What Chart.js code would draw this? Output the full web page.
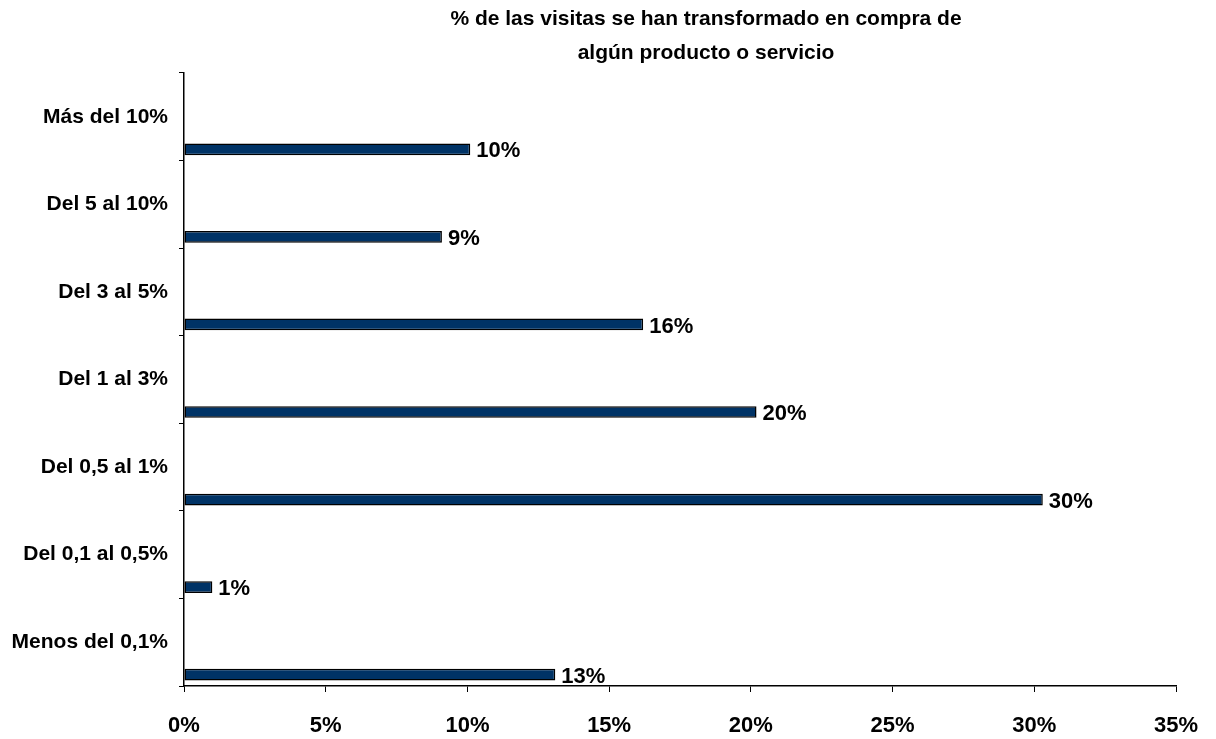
<!DOCTYPE html>
<html>
<head>
<meta charset="utf-8">
<script src="https://cdn.jsdelivr.net/npm/chart.js@4/dist/chart.umd.min.js"></script>
<style>
  html, body { margin: 0; padding: 0; background: #fff; overflow: hidden; }
  canvas { display: block; }
</style>
</head>
<body>
<canvas id="myChart" width="1216" height="739"></canvas>
<script>
const categories = [
  "Más del 10%",
  "Del 5 al 10%",
  "Del 3 al 5%",
  "Del 1 al 3%",
  "Del 0,5 al 1%",
  "Del 0,1 al 0,5%",
  "Menos del 0,1%",
];
const values = [10.1, 9.1, 16.2, 20.2, 30.3, 1.0, 13.1];
const valueLabels = ["10%", "9%", "16%", "20%", "30%", "1%", "13%"];
const xTicks = [0, 5, 10, 15, 20, 25, 30, 35];
const titleLines = [
  "% de las visitas se han transformado en compra de",
  "algún producto o servicio",
];

const FONT = "'Liberation Sans', Arial, sans-serif";

// title is drawn by hand so it can sit off-centre like the original
const titlePlugin = {
  id: "sideTitle",
  afterDraw(chart) {
    const ctx = chart.ctx;
    ctx.save();
    ctx.font = "bold 21px " + FONT;
    ctx.fillStyle = "#000";
    ctx.textAlign = "center";
    ctx.textBaseline = "middle";
    titleLines.forEach((t, i) => ctx.fillText(t, 706, 19 + i * 34));
    ctx.restore();
  },
};

const valueLabelPlugin = {
  id: "valueLabels",
  afterDatasetsDraw(chart) {
    const ctx = chart.ctx;
    const meta = chart.getDatasetMeta(1);
    ctx.save();
    ctx.font = "bold 22px " + FONT;
    ctx.fillStyle = "#000";
    ctx.textAlign = "left";
    ctx.textBaseline = "middle";
    meta.data.forEach((bar, i) => {
      ctx.fillText(valueLabels[i], bar.x + 6, bar.y + 2);
    });
    ctx.restore();
  },
};

new Chart(document.getElementById("myChart"), {
  type: "bar",
  data: {
    labels: categories,
    datasets: [
      {
        // empty series, keeps the real bars at the bottom of each band
        label: "",
        data: categories.map(() => null),
        backgroundColor: "rgba(0,0,0,0)",
      },
      {
        label: "%",
        data: values,
        backgroundColor: "#003366",
        borderColor: "#000",
        borderWidth: 1.5,
        borderSkipped: false,
      },
    ],
  },
  options: {
    indexAxis: "y",
    responsive: false,
    animation: false,
    categoryPercentage: 1.485,
    barPercentage: 0.18,
    layout: { padding: { top: 73, right: 40, bottom: 0, left: 0 } },
    plugins: {
      legend: { display: false },
      title: { display: false },
      tooltip: { enabled: false },
    },
    scales: {
      x: {
        min: 0,
        max: 35,
        afterBuildTicks: (s) => { s.ticks = xTicks.map((v) => ({ value: v })); },
        afterFit: (s) => {
          s.height = 53;
          s.paddingRight = 0;
          s.paddingLeft = 0;
        },
        ticks: {
          callback: (v) => v + "%",
          color: "#000",
          font: { family: FONT, size: 22, weight: "bold" },
          padding: 21,
          maxRotation: 0,
        },
        grid: { drawOnChartArea: false, drawTicks: true, tickLength: 6, color: "#000" },
        border: { color: "#000", width: 1.5 },
      },
      y: {
        afterFit: (s) => { s.width = 184; },
        ticks: {
          color: "#000",
          font: { family: FONT, size: 21, weight: "bold" },
          padding: 11,
        },
        grid: { drawOnChartArea: false, drawTicks: true, tickLength: 5, color: "#000", offset: true },
        border: { color: "#000", width: 1.5 },
      },
    },
  },
  plugins: [titlePlugin, valueLabelPlugin],
});
</script>
</body>
</html>
